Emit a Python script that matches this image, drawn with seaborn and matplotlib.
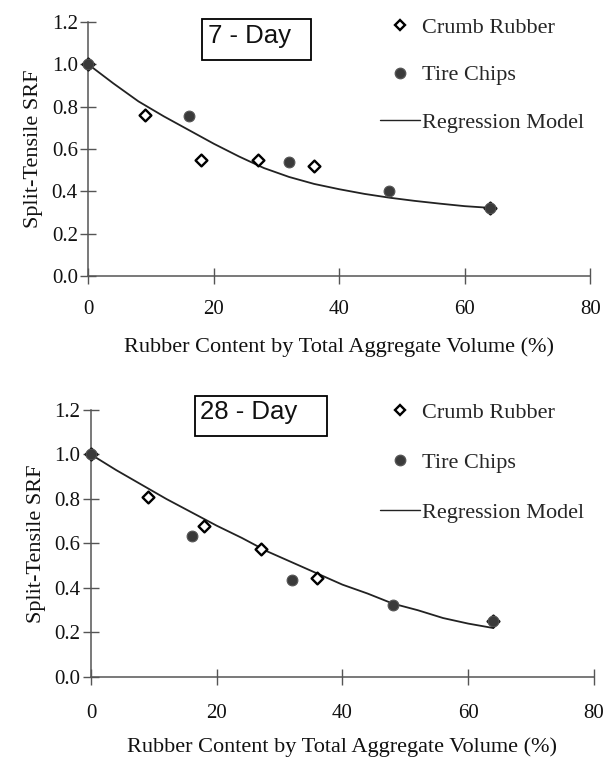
import numpy as np
import pandas as pd
import matplotlib
matplotlib.use("Agg")
import matplotlib.pyplot as plt
from matplotlib.lines import Line2D
from matplotlib.patches import Rectangle
from matplotlib.legend_handler import HandlerLine2D
import seaborn as sns

# ---- data -------------------------------------------------------------
crumb_x = [0, 9, 18, 27, 36, 64]
crumb_7 = [1.00, 0.76, 0.55, 0.55, 0.52, 0.32]
crumb_28 = [1.00, 0.81, 0.68, 0.575, 0.445, 0.25]

chips_x = [0, 16, 32, 48, 64]
chips_7 = [1.00, 0.755, 0.54, 0.40, 0.32]
chips_28 = [1.00, 0.635, 0.435, 0.325, 0.25]

model_x = [0, 4, 8, 12, 16, 20, 24, 28, 32, 36, 40, 44, 48, 52, 56, 60, 64]
model_7 = [1.00, 0.91, 0.825, 0.755, 0.69, 0.625, 0.565, 0.51, 0.468,
           0.435, 0.41, 0.388, 0.37, 0.355, 0.342, 0.33, 0.322]
model_28 = [1.00, 0.93, 0.865, 0.80, 0.74, 0.68, 0.625, 0.565, 0.515,
            0.465, 0.415, 0.375, 0.33, 0.30, 0.265, 0.24, 0.22]

panel_titles = ["7 - Day", "28 - Day"]
x_ticks = [0, 20, 40, 60, 80]
y_ticks = [0.0, 0.2, 0.4, 0.6, 0.8, 1.0, 1.2]
x_label = "Rubber Content by Total Aggregate Volume (%)"
y_label = "Split-Tensile SRF"
legend_labels = ["Crumb Rubber", "Tire Chips", "Regression Model"]


class RightMarkerHandler(HandlerLine2D):
    """Legend handler that draws a single marker near the right of the handle."""

    def get_xdata(self, legend, xdescent, ydescent, width, height, fontsize):
        xdata, _ = super().get_xdata(legend, xdescent, ydescent,
                                     width, height, fontsize)
        return xdata, [-xdescent + 0.75 * width]


# ---- style ------------------------------------------------------------
sns.set_theme(style="ticks")
plt.rcParams["font.family"] = ["Liberation Serif", "DejaVu Serif"]

fig = plt.figure(figsize=(6.03, 7.57), dpi=100)
ax_top = fig.add_axes([0.1464, 0.6354, 0.8325, 0.3355])
ax_bot = fig.add_axes([0.1509, 0.1057, 0.8340, 0.3527])

spine_col = "#555555"
mark_col = "#3a3a3a"
text_col = "#111111"

panels = [
    dict(ax=ax_top, crumb=crumb_7, chips=chips_7, model=model_7,
         title=panel_titles[0], box=(0.226, 0.850, 0.218, 0.162),
         title_xy=(0.238, 0.946), leg_anchor=(0.581, 1.019), leg_space=1.22,
         xpad=12, xlabelpad=13),
    dict(ax=ax_bot, crumb=crumb_28, chips=chips_28, model=model_28,
         title=panel_titles[1], box=(0.207, 0.903, 0.262, 0.149),
         title_xy=(0.217, 0.992), leg_anchor=(0.575, 1.030), leg_space=1.33,
         xpad=14, xlabelpad=10),
]

for p in panels:
    ax = p["ax"]
    df_model = pd.DataFrame({"x": model_x, "y": p["model"]})
    df_crumb = pd.DataFrame({"x": crumb_x, "y": p["crumb"]})
    df_chips = pd.DataFrame({"x": chips_x, "y": p["chips"]})

    sns.lineplot(data=df_model, x="x", y="y", ax=ax, color="#222222",
                 linewidth=1.3, sort=True, clip_on=False)
    sns.scatterplot(data=df_chips, x="x", y="y", ax=ax, marker="o", s=60,
                    color=mark_col, edgecolor="#555555", linewidth=0.8,
                    clip_on=False, zorder=4)
    sns.scatterplot(data=df_crumb, x="x", y="y", ax=ax, marker="D", s=36,
                    facecolor="white", edgecolor="black", linewidth=1.7,
                    clip_on=False, zorder=3)

    ax.set_xlim(0, 80)
    ax.set_ylim(0, 1.2)
    ax.set_xticks(x_ticks)
    ax.set_yticks(y_ticks)
    ax.set_xticklabels([str(t) for t in x_ticks])
    ax.set_yticklabels([f"{t:.1f}" for t in y_ticks])
    ax.tick_params(axis="both", direction="inout", length=11, width=1.0,
                   color=spine_col, labelsize=15, labelcolor=text_col)
    ax.tick_params(axis="x", pad=p["xpad"])
    ax.tick_params(axis="y", pad=2)
    for side in ("top", "right"):
        ax.spines[side].set_visible(False)
    for side in ("left", "bottom"):
        ax.spines[side].set_color(spine_col)
        ax.spines[side].set_linewidth(1.1)

    ax.set_xlabel(x_label, fontsize=16, labelpad=p["xlabelpad"], color=text_col)
    ax.set_ylabel(y_label, fontsize=16, labelpad=6, color=text_col)

    bx, by, bw, bh = p["box"]
    ax.add_patch(Rectangle((bx, by), bw, bh, transform=ax.transAxes,
                           facecolor="white", edgecolor="black",
                           linewidth=1.3, clip_on=False, zorder=5))
    ax.text(*p["title_xy"], p["title"], transform=ax.transAxes,
            ha="left", va="center", fontsize=18.5, color=text_col,
            family=["Liberation Sans", "DejaVu Sans"], zorder=6)

    handles = [
        Line2D([], [], linestyle="none", marker="D", markersize=5.5,
               markerfacecolor="white", markeredgecolor="black",
               markeredgewidth=1.7),
        Line2D([], [], linestyle="none", marker="o", markersize=7.5,
               markerfacecolor=mark_col, markeredgecolor="#555555"),
        Line2D([], [], color="#222222", linewidth=1.0),
    ]
    ax.legend(handles, legend_labels, loc="upper left",
              bbox_to_anchor=p["leg_anchor"], frameon=False, fontsize=16,
              labelspacing=p["leg_space"], handlelength=1.8,
              handletextpad=0.1, borderaxespad=0, borderpad=0,
              numpoints=1,
              handler_map={Line2D: RightMarkerHandler(numpoints=1)})

fig.savefig("out.png", dpi=100, facecolor="white")
